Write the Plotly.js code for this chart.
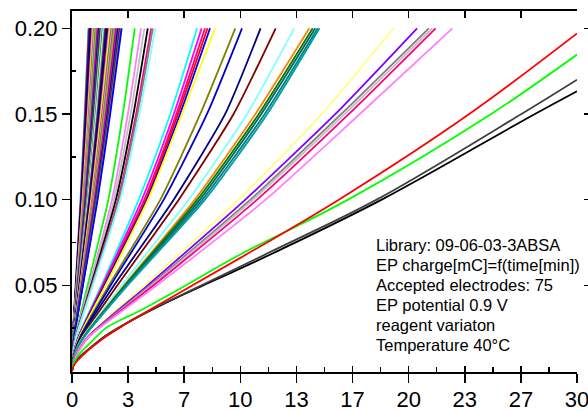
<!DOCTYPE html>
<html>
<head>
<meta charset="utf-8">
<script src="https://cdn.plot.ly/plotly-3.0.1.min.js"></script>
<style>html,body{margin:0;padding:0;background:#fff;}#chart{width:588px;height:411px;}</style>
</head>
<body>
<div id="chart"></div>
<script>
// y levels at which the x positions of each curve were read (charge, mC)
const yLevels = [0, 0.01, 0.02, 0.05, 0.10, 0.15, 0.20];

// fastest group: x (min) at y = 0.01, 0.02, 0.05, 0.10, 0.15, 0.20
const fastX = [
  [0.01,0.04,0.21,0.50,0.75,0.97],[0.01,0.05,0.22,0.52,0.77,1.00],[0.01,0.05,0.23,0.54,0.81,1.05],
  [0.01,0.05,0.24,0.57,0.85,1.10],[0.01,0.05,0.25,0.58,0.87,1.13],[0.02,0.05,0.26,0.61,0.91,1.18],
  [0.02,0.05,0.27,0.63,0.94,1.22],[0.02,0.06,0.28,0.65,0.98,1.27],[0.02,0.06,0.29,0.67,1.00,1.30],
  [0.02,0.06,0.30,0.70,1.04,1.35],[0.02,0.06,0.31,0.72,1.08,1.40],[0.02,0.06,0.31,0.74,1.10,1.43],
  [0.02,0.07,0.33,0.76,1.14,1.48],[0.02,0.07,0.33,0.78,1.17,1.52],[0.02,0.07,0.35,0.81,1.21,1.57],
  [0.02,0.07,0.35,0.82,1.23,1.60],[0.02,0.07,0.36,0.85,1.27,1.65],[0.02,0.08,0.37,0.88,1.31,1.70],
  [0.02,0.08,0.38,0.90,1.34,1.74],[0.02,0.08,0.39,0.92,1.37,1.78],[0.02,0.08,0.40,0.94,1.41,1.83],
  [0.02,0.08,0.41,0.96,1.44,1.87],[0.02,0.09,0.42,0.99,1.48,1.92],[0.03,0.09,0.43,1.01,1.52,1.97],
  [0.03,0.09,0.44,1.04,1.56,2.02],[0.03,0.09,0.46,1.07,1.59,2.07],[0.03,0.10,0.47,1.09,1.63,2.12],
  [0.03,0.10,0.48,1.12,1.67,2.17],[0.03,0.10,0.49,1.14,1.71,2.22],[0.03,0.10,0.50,1.17,1.75,2.27],
  [0.03,0.10,0.51,1.20,1.79,2.33],[0.03,0.11,0.53,1.24,1.85,2.40],[0.03,0.11,0.54,1.26,1.89,2.45],
  [0.03,0.11,0.55,1.29,1.93,2.50],[0.03,0.12,0.56,1.32,1.97,2.56],[0.03,0.12,0.58,1.35,2.02,2.62],
  [0.03,0.12,0.59,1.38,2.06,2.68],[0.04,0.12,0.60,1.41,2.11,2.74],[0.04,0.13,0.62,1.44,2.16,2.80],
  [0.04,0.13,0.63,1.47,2.19,2.85],[0.04,0.13,0.64,1.49,2.23,2.90],[0.04,0.13,0.65,1.52,2.27,2.95]
];
const fastColors = [
  '#00FFFF','#FF0000','#0000FF','#000080','#000000','#800080','#FF80FF','#FFFF00','#808000','#C0C0C0','#FF00FF',
  '#00FF00','#FF8000','#8000FF','#FF0080','#0000A0','#008080','#800000','#808080','#80FFFF','#404040','#FFFF80',
  '#00FFFF','#FF0000','#0000FF','#000080','#000000','#800080','#FF80FF','#FFFF00','#808000','#C0C0C0','#FF00FF',
  '#00FF00','#FF8000','#8000FF','#FF0080','#0000A0','#008080','#800000','#808080','#0000FF'
];

// middle groups: x (min) at y = 0.01, 0.02, 0.05, 0.10, 0.15, 0.20
const midX = [
  [0.05,0.19,0.93,2.16,3.02,3.73],[0.05,0.21,1.03,2.38,3.32,4.10],[0.06,0.22,1.08,2.49,3.48,4.30],
  [0.06,0.23,1.13,2.61,3.65,4.50],[0.06,0.24,1.18,2.73,3.81,4.70],[0.06,0.24,1.20,2.78,3.89,4.80],
  [0.06,0.25,1.24,2.87,4.00,4.95],
  [0.10,0.37,1.75,3.96,5.84,7.43],[0.10,0.39,1.81,4.15,6.05,7.70],[0.10,0.40,1.86,4.30,6.20,7.90],
  [0.10,0.40,1.90,4.40,6.30,8.05],[0.11,0.41,1.93,4.46,6.42,8.20],[0.11,0.43,2.00,4.52,6.54,8.50],
  [0.13,0.48,2.20,5.25,7.62,9.70],[0.13,0.50,2.30,5.45,8.02,10.1],[0.15,0.55,2.50,6.04,9.10,11.2],
  [0.16,0.60,2.70,6.34,9.60,12.1],[0.17,0.65,2.95,6.93,10.4,13.2],
  [0.18,0.70,3.10,7.30,10.9,14.1],[0.19,0.71,3.15,7.45,11.1,14.3],[0.19,0.72,3.20,7.60,11.25,14.45],
  [0.19,0.73,3.25,7.75,11.45,14.6],[0.19,0.73,3.30,7.90,11.6,14.7],
  [0.25,0.90,4.30,9.90,14.85,19.1],[0.27,0.95,4.50,10.3,15.65,20.5],[0.28,0.98,4.65,10.6,16.0,21.2],
  [0.28,1.00,4.75,10.75,16.2,21.4],[0.28,1.00,4.85,11.0,16.45,21.6],[0.30,1.00,5.05,11.5,17.1,22.6]
];
const midColors = [
  '#00FF00','#FF80FF','#C0C0C0','#000000','#FF0080','#808080','#80FFFF',
  '#00FFFF','#FF00FF','#FF0080','#FF0000','#0000FF','#FFFF00',
  '#808000','#0000CC','#000080','#800000','#80FFFF',
  '#FF8000','#008000','#006666','#008080','#00A0A0',
  '#FFFF80','#8000FF','#808080','#C0C0C0','#FF0080','#FF80FF'
];

// slowest four electrodes (run to 30 min)
const slowX = [
  [0,0.1,0.3,0.6,1.0,1.5,2.0,3.0,4.0,6.0,7.6,12,18.4,27.5,30],
  [0,0.1,0.3,0.6,1.0,1.5,2.0,3.0,4.0,6.0,7.6,12,18.1,26.7,30],
  [0,0.1,0.3,0.6,1.0,1.5,2.0,3.0,4.0,6.0,10,16.4,24.9,30],
  [0,0.1,0.3,0.6,1.0,1.5,2.0,3.0,4.0,6.0,10,15.85,23.6,30]
];
const slowY = [
  [0,0.0038,0.0068,0.0095,0.0128,0.0168,0.0205,0.0265,0.032,0.0418,0.049,0.069,0.10,0.15,0.1633],
  [0,0.0038,0.0068,0.0095,0.0128,0.0168,0.0205,0.0265,0.032,0.042,0.0495,0.0705,0.10,0.15,0.170],
  [0,0.0045,0.0082,0.0117,0.0155,0.0205,0.025,0.0303,0.035,0.0457,0.068,0.10,0.15,0.1847],
  [0,0.003,0.0058,0.0088,0.0124,0.0163,0.020,0.0263,0.0322,0.0435,0.066,0.10,0.15,0.197]
];
const slowColors = ['#000000','#404040','#00FF00','#FF0000'];

const xTickVals = [0, 10/3, 20/3, 10, 40/3, 50/3, 20, 70/3, 80/3, 30];
const xTickText = ['0','3','7','10','13','17','20','23','27','30'];
const xMinorVals = [5/3, 5, 25/3, 35/3, 15, 55/3, 65/3, 25, 85/3];
const yTickVals = [0.05, 0.10, 0.15, 0.20];
const yTickText = ['0.05','0.10','0.15','0.20'];
const yMinorVals = [0.025, 0.075, 0.125, 0.175];

const infoLines = [
  'Library: 09-06-03-3ABSA',
  'EP charge[mC]=f(time[min])',
  'Accepted electrodes: 75',
  'EP potential 0.9 V',
  'reagent variaton',
  'Temperature 40°C'
];
const infoY = [0.3518, 0.2964, 0.2410, 0.1856, 0.1302, 0.0748];

const traces = [];
const lw = 1.8;
fastX.forEach((row, i) => traces.push({
  x: [0].concat(row), y: yLevels, type: 'scatter', mode: 'lines',
  line: {color: fastColors[i], width: lw, shape: 'spline', smoothing: 0.6},
  hoverinfo: 'skip', showlegend: false
}));
midX.forEach((row, i) => traces.push({
  x: [0].concat(row), y: yLevels, type: 'scatter', mode: 'lines',
  line: {color: midColors[i], width: lw, shape: 'spline', smoothing: 0.6},
  hoverinfo: 'skip', showlegend: false
}));
slowX.forEach((row, i) => traces.push({
  x: row, y: slowY[i], type: 'scatter', mode: 'lines',
  line: {color: slowColors[i], width: lw, shape: 'spline', smoothing: 1},
  hoverinfo: 'skip', showlegend: false
}));
// invisible helper traces so the overlay frame axes are drawn
traces.push({x: [15], y: [0.1], xaxis: 'x2', yaxis: 'y', type: 'scatter', mode: 'markers', marker: {opacity: 0}, showlegend: false, hoverinfo: 'skip'});
traces.push({x: [15], y: [0.1], xaxis: 'x3', yaxis: 'y', type: 'scatter', mode: 'markers', marker: {opacity: 0}, showlegend: false, hoverinfo: 'skip'});
traces.push({x: [15], y: [0.1], xaxis: 'x', yaxis: 'y2', type: 'scatter', mode: 'markers', marker: {opacity: 0}, showlegend: false, hoverinfo: 'skip'});

const tickFont = {family: 'Liberation Sans, Arial, sans-serif', color: '#000'};
const xDom = [0, 505/516];
const yRange = [-0.0006, 0.2101];

const layout = {
  width: 588, height: 411,
  margin: {l: 72, r: 0, t: 11, b: 39},
  paper_bgcolor: '#fff', plot_bgcolor: '#fff',
  showlegend: false,
  xaxis: {
    domain: xDom, range: [0, 30], showgrid: false, zeroline: false,
    showline: true, linecolor: '#000', linewidth: 2,
    tickmode: 'array', tickvals: xTickVals, ticktext: xTickText,
    ticks: 'outside', ticklen: 9, tickwidth: 1.5, tickcolor: '#000',
    ticklabeloverflow: 'allow', ticklabelstandoff: -2,
    tickfont: Object.assign({size: 22}, tickFont),
    minor: {tickmode: 'array', tickvals: xMinorVals, ticks: 'inside', ticklen: 5, tickwidth: 1.5, tickcolor: '#000', showgrid: false}
  },
  xaxis2: {
    domain: xDom, range: [0, 30], overlaying: 'x', side: 'top', anchor: 'y',
    showgrid: false, zeroline: false, showline: true, linecolor: '#000', linewidth: 2,
    tickmode: 'array', tickvals: xTickVals, showticklabels: false,
    ticks: 'inside', ticklen: 7, tickwidth: 1.5, tickcolor: '#000'
  },
  xaxis3: {
    domain: xDom, range: [0, 30], overlaying: 'x', side: 'bottom', anchor: 'y',
    showgrid: false, zeroline: false, showline: false,
    tickmode: 'array', tickvals: xTickVals, showticklabels: false,
    ticks: 'inside', ticklen: 6, tickwidth: 1.5, tickcolor: '#000'
  },
  yaxis: {
    range: yRange, showgrid: false, zeroline: false,
    showline: true, linecolor: '#000', linewidth: 2,
    tickmode: 'array', tickvals: yTickVals, ticktext: yTickText,
    ticks: 'outside', ticklen: 8, tickwidth: 1.5, tickcolor: '#000',
    tickfont: Object.assign({size: 22}, tickFont),
    minor: {tickmode: 'array', tickvals: yMinorVals, ticks: 'inside', ticklen: 4, tickwidth: 1.5, tickcolor: '#000', showgrid: false}
  },
  yaxis2: {
    range: yRange, overlaying: 'y', side: 'right', anchor: 'free', position: 1,
    showgrid: false, zeroline: false, showline: false,
    tickmode: 'array', tickvals: yTickVals, showticklabels: false,
    ticks: 'inside', ticklen: 4, tickwidth: 1.5, tickcolor: '#000'
  },
  annotations: infoLines.map((t, i) => ({
    text: t, xref: 'paper', yref: 'paper', x: 0.585, y: infoY[i],
    xanchor: 'left', yanchor: 'middle', showarrow: false, align: 'left',
    font: {family: 'Liberation Sans, Arial, sans-serif', size: 16.5, color: '#000'}
  }))
};

Plotly.newPlot('chart', traces, layout, {staticPlot: true, displayModeBar: false});
</script>
</body>
</html>
